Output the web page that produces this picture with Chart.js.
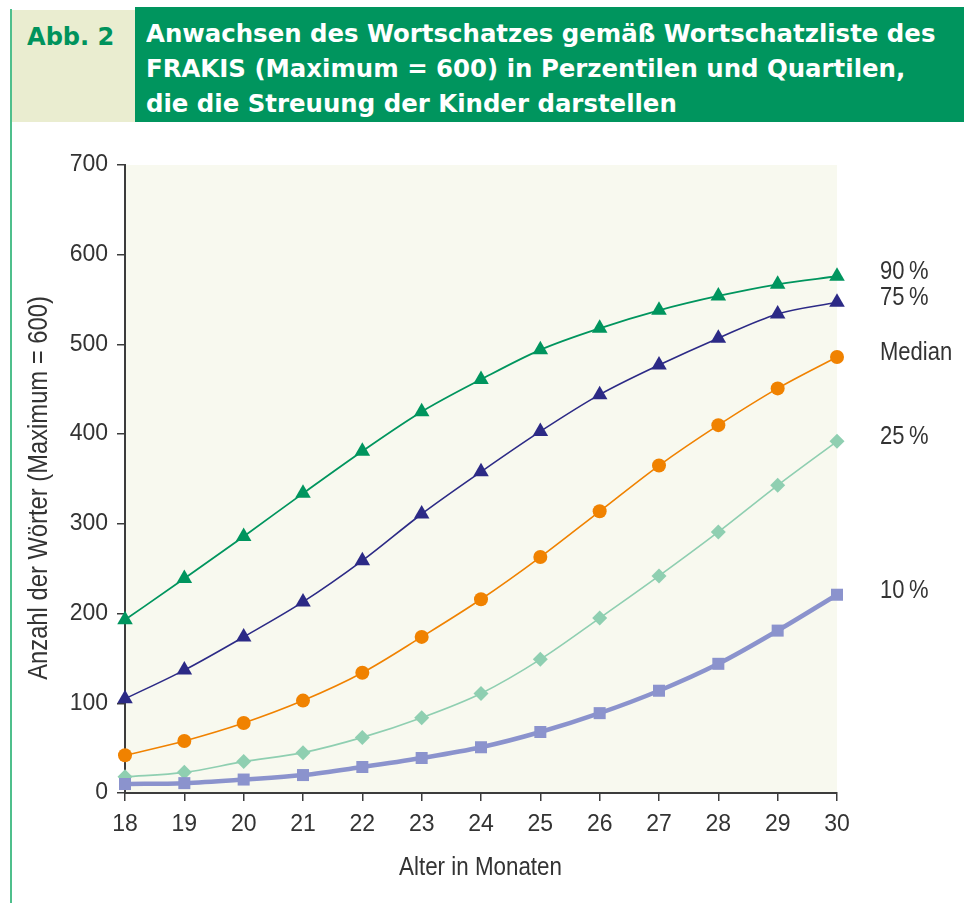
<!DOCTYPE html>
<html lang="de">
<head>
<meta charset="utf-8">
<title>Abb. 2 – Wortschatz FRAKIS</title>
<script src="https://cdn.jsdelivr.net/npm/chart.js@4/dist/chart.umd.min.js"></script>
<style>
  html, body { margin: 0; padding: 0; background: #fff; }
  #wrap { position: relative; width: 964px; height: 903px; overflow: hidden; }
  #rule { position: absolute; left: 10px; top: 9px; width: 2px; height: 900px; background: #4fbf8c; }
  #tag {
    position: absolute; left: 12px; top: 10px; width: 123px; height: 112px;
    background: #eaedd0;
  }
  #tag span {
    position: absolute; left: 15px; top: 12px;
    font: bold 25px "DejaVu Sans Condensed", "DejaVu Sans", sans-serif;
    color: #00935c; white-space: nowrap;
    transform: scaleX(1.07); transform-origin: left top;
  }
  #head {
    position: absolute; left: 135px; top: 7px; width: 829px; height: 115px;
    background: #00955e;
  }
  #head div {
    position: absolute; left: 11px;
    font: bold 25px "DejaVu Sans Condensed", "DejaVu Sans", sans-serif;
    color: #fff; white-space: nowrap;
    transform: scaleX(1.085); transform-origin: left top;
  }
  canvas { position: absolute; left: 0; top: 0; }
</style>
</head>
<body>
<div id="wrap">
  <div id="rule"></div>
  <div id="tag"><span>Abb. 2</span></div>
  <div id="head">
    <div style="top:12px">Anwachsen des Wortschatzes gemäß Wortschatzliste des</div>
    <div style="top:47px">FRAKIS (Maximum = 600) in Perzentilen und Quartilen,</div>
    <div style="top:82px">die die Streuung der Kinder darstellen</div>
  </div>
  <canvas id="chart" width="964" height="903"></canvas>
</div>
<script>
// Alter in Monaten
const months = ['18', '19', '20', '21', '22', '23', '24', '25', '26', '27', '28', '29', '30'];

// Anzahl der Wörter je Perzentil
const p90 = [193, 239, 286, 334, 381, 425, 461, 494, 518, 538, 554, 567, 576];
const p75 = [105, 137, 174, 213, 259, 311, 358, 403, 444, 477, 507, 534, 547];
const median = [42, 58, 78, 103, 134, 174, 216, 263, 314, 365, 410, 451, 486];
const p25 = [18, 23, 35, 45, 62, 84, 111, 149, 195, 242, 291, 343, 392];
const p10 = [10, 11, 15, 20, 29, 39, 51, 68, 89, 114, 144, 181, 221];

const seriesNames = ['90\u2009%', '75\u2009%', 'Median', '25\u2009%', '10\u2009%'];
const yTicks = [0, 100, 200, 300, 400, 500, 600, 700];
const xTitle = 'Alter in Monaten';
const yTitle = 'Anzahl der Wörter (Maximum = 600)';

const axisColor = '#3c3c3c';
const textColor = '#333';
const textFont = '"Liberation Sans", Arial, sans-serif';

// narrow text: the font is squeezed horizontally
function narrowText(ctx, text, x, y, size, sx, rot, align) {
  ctx.save();
  ctx.translate(x, y);
  if (rot) ctx.rotate(rot);
  ctx.scale(sx, 1);
  ctx.font = size + 'px ' + textFont;
  ctx.fillStyle = textColor;
  ctx.textAlign = align || 'center';
  ctx.textBaseline = 'middle';
  ctx.fillText(text, 0, 0);
  ctx.restore();
}

// cream background behind the plot area
const plotBg = {
  id: 'plotBg',
  beforeDraw(chart) {
    const {ctx, chartArea: a} = chart;
    ctx.save();
    ctx.fillStyle = '#f8f9ef';
    ctx.fillRect(a.left, a.top, a.right - a.left, a.bottom - a.top);
    ctx.restore();
  }
};

// axis titles and series names to the right of the last point
const labels = {
  id: 'labels',
  afterDatasetsDraw(chart) {
    const {ctx, chartArea: a} = chart;
    const y = chart.scales.y;
    narrowText(ctx, xTitle, (a.left + a.right) / 2 - 0.5, 868, 26, 0.86);
    narrowText(ctx, yTitle, 40, (a.top + a.bottom) / 2 + 9, 27, 0.88, -Math.PI / 2);
    chart.data.datasets.forEach(ds => {
      const last = ds.data[ds.data.length - 1];
      narrowText(ctx, ds.label, a.right + 43, y.getPixelForValue(last) - 4, 25, 0.88, 0, 'left');
    });
  }
};

function series(label, data, color, style, radius, width) {
  return {
    label: label,
    data: data,
    borderColor: color,
    backgroundColor: color,
    borderWidth: width,
    pointStyle: style,
    pointRadius: radius,
    pointHoverRadius: radius,
    pointBorderWidth: 0,
    cubicInterpolationMode: 'monotone',
    clip: false
  };
}

new Chart(document.getElementById('chart'), {
  type: 'line',
  data: {
    labels: months,
    datasets: [
      series(seriesNames[4], p10, '#8b93cd', 'rect', 8.5, 4.5),
      series(seriesNames[3], p25, '#8fcfb1', 'rectRot', 7.5, 1.6),
      series(seriesNames[2], median, '#f08200', 'circle', 7, 1.6),
      series(seriesNames[1], p75, '#2c2a86', 'triangle', 9, 1.6),
      series(seriesNames[0], p90, '#00955e', 'triangle', 9, 1.8)
    ]
  },
  options: {
    responsive: false,
    animation: false,
    events: [],
    layout: { padding: { top: 165, right: 127, bottom: 0, left: 20 } },
    plugins: {
      legend: { display: false },
      tooltip: { enabled: false }
    },
    scales: {
      x: {
        type: 'category',
        offset: false,
        afterFit(scale) { scale.height = 110; },
        grid: {
          drawOnChartArea: false,
          drawTicks: true,
          tickLength: 8,
          color: axisColor,
          lineWidth: 1.5
        },
        border: { display: true, color: axisColor, width: 2 },
        ticks: {
          color: textColor,
          padding: 10,
          maxRotation: 0,
          font: { family: 'Liberation Sans', size: 23 }
        }
      },
      y: {
        min: 0,
        max: 700,
        afterFit(scale) { scale.width = 105; },
        afterBuildTicks(scale) { scale.ticks = yTicks.map(v => ({value: v})); },
        grid: {
          drawOnChartArea: false,
          drawTicks: true,
          tickLength: 8,
          color: axisColor,
          lineWidth: 1.5
        },
        border: { display: true, color: axisColor, width: 2 },
        ticks: {
          color: textColor,
          padding: 9,
          font: { family: 'Liberation Sans', size: 23 }
        }
      }
    }
  },
  plugins: [plotBg, labels]
});
</script>
</body>
</html>
